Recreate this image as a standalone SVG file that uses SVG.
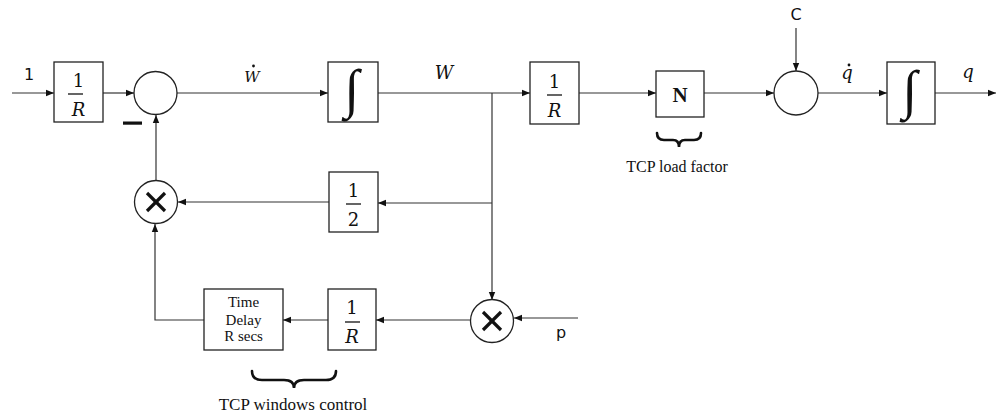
<svg xmlns="http://www.w3.org/2000/svg" width="996" height="419" viewBox="0 0 996 419">
<style>
.blk{fill:#fff;stroke:#222;stroke-width:1.3}
.ln{fill:none;stroke:#333;stroke-width:1.2}
.sans{font-family:"DejaVu Sans","Liberation Sans",sans-serif;fill:#111}
.math{font-family:"DejaVu Serif","Liberation Serif",serif;fill:#111}
.it{font-family:"DejaVu Serif","Liberation Serif",serif;font-style:italic;fill:#111}
.int{font-family:"Liberation Serif","DejaVu Serif",serif;font-style:italic;fill:#111}
.tm{font-family:"Liberation Serif",serif;fill:#111}
.x{stroke:#111;stroke-width:3.2;stroke-linecap:butt}
.br{fill:none;stroke:#111;stroke-width:2.6;stroke-linecap:round}
</style>
<defs>
<marker id="a" viewBox="0 0 8 8" refX="8" refY="4" markerWidth="8" markerHeight="8" markerUnits="userSpaceOnUse" orient="auto">
<path d="M0,0.8 L8,4 L0,7.2 Z" fill="#111"/>
</marker>
</defs>
<rect width="996" height="419" fill="#fff"/>

<g id="connectors">
<path class="ln" d="M12,93 H54" marker-end="url(#a)"/>
<path class="ln" d="M103,93 H134" marker-end="url(#a)"/>
<path class="ln" d="M177,93 H328" marker-end="url(#a)"/>
<path class="ln" d="M378,93 H530" marker-end="url(#a)"/>
<path class="ln" d="M579,93 H656" marker-end="url(#a)"/>
<path class="ln" d="M704,93 H774" marker-end="url(#a)"/>
<path class="ln" d="M796,28 V71" marker-end="url(#a)"/>
<path class="ln" d="M818,93 H887" marker-end="url(#a)"/>
<path class="ln" d="M935,93 H996" marker-end="url(#a)"/>
<path class="ln" d="M492,93 V300" marker-end="url(#a)"/>
<path class="ln" d="M492,203 H378" marker-end="url(#a)"/>
<path class="ln" d="M329,202 H178" marker-end="url(#a)"/>
<path class="ln" d="M156,181 V115" marker-end="url(#a)"/>
<path class="ln" d="M578,318 H514" marker-end="url(#a)"/>
<path class="ln" d="M471,320 H376" marker-end="url(#a)"/>
<path class="ln" d="M328,320 H283" marker-end="url(#a)"/>
<path class="ln" d="M204,320 H155 V224" marker-end="url(#a)"/>
</g>

<g id="labels">
<text class="sans" x="29" y="80" font-size="16" text-anchor="middle">1</text>
<text class="it" x="252" y="82" font-size="15" text-anchor="middle">W</text>
<circle cx="253.5" cy="66" r="1.4" fill="#111"/>
<text class="it" x="444" y="79" font-size="18" text-anchor="middle">W</text>
<text class="sans" x="796" y="20" font-size="16" text-anchor="middle">C</text>
<text class="it" x="847" y="79" font-size="18" text-anchor="middle">q</text>
<circle cx="849" cy="65" r="1.4" fill="#111"/>
<text class="it" x="968" y="78" font-size="18" text-anchor="middle">q</text>
<text class="sans" x="561" y="338" font-size="16" text-anchor="middle">p</text>
<rect x="123" y="121.5" width="19" height="3.2" fill="#111"/>
</g>

<g id="gain1">
<rect class="blk" x="54" y="62" width="49" height="60"/>
<text class="math" x="78.5" y="87" font-size="18" text-anchor="middle">1</text>
<line x1="68" y1="94" x2="83" y2="94" stroke="#111" stroke-width="1.3"/>
<text class="it" x="78.5" y="116" font-size="18" text-anchor="middle">R</text>
</g>

<g id="sum1">
<circle class="blk" cx="155.5" cy="93" r="21.5"/>
</g>

<g id="integrator1">
<rect class="blk" x="328" y="62" width="50" height="60"/>
<text class="int" x="352" y="107" font-size="54" text-anchor="middle">∫</text>
</g>

<g id="gain2">
<rect class="blk" x="530" y="62" width="49" height="62"/>
<text class="math" x="554.5" y="88" font-size="18" text-anchor="middle">1</text>
<line x1="547" y1="95" x2="562" y2="95" stroke="#111" stroke-width="1.3"/>
<text class="it" x="554.5" y="117" font-size="18" text-anchor="middle">R</text>
</g>

<g id="loadN">
<rect class="blk" x="656" y="71" width="48" height="46"/>
<text class="tm" x="680" y="102" font-size="21" font-weight="bold" text-anchor="middle">N</text>
<path class="br" d="M657,133 Q657,140 664,140 L673,140 Q679,140 679,147 Q679,140 685,140 L694,140 Q701,140 701,133"/>
<text class="tm" x="677" y="172" font-size="16" text-anchor="middle">TCP load factor</text>
</g>

<g id="sum2">
<circle class="blk" cx="796" cy="93" r="22"/>
</g>

<g id="integrator2">
<rect class="blk" x="887" y="62" width="48" height="62"/>
<text class="int" x="910" y="108" font-size="54" text-anchor="middle">∫</text>
</g>

<g id="half">
<rect class="blk" x="329" y="172" width="49" height="60"/>
<text class="math" x="353.5" y="197" font-size="18" text-anchor="middle">1</text>
<line x1="346" y1="204" x2="361" y2="204" stroke="#111" stroke-width="1.3"/>
<text class="math" x="353.5" y="226" font-size="18" text-anchor="middle">2</text>
</g>

<g id="mult1">
<circle class="blk" cx="156" cy="202" r="21.5"/>
<line class="x" x1="147" y1="193" x2="165" y2="211"/>
<line class="x" x1="165" y1="193" x2="147" y2="211"/>
</g>

<g id="mult2">
<circle class="blk" cx="492" cy="321" r="21.5"/>
<line class="x" x1="483" y1="312" x2="501" y2="330"/>
<line class="x" x1="501" y1="312" x2="483" y2="330"/>
</g>

<g id="gain3">
<rect class="blk" x="328" y="289" width="48" height="61"/>
<text class="math" x="352" y="314" font-size="18" text-anchor="middle">1</text>
<line x1="345" y1="322" x2="360" y2="322" stroke="#111" stroke-width="1.3"/>
<text class="it" x="352" y="343" font-size="18" text-anchor="middle">R</text>
</g>

<g id="delay">
<rect class="blk" x="204" y="289" width="79" height="61"/>
<text class="tm" x="243.5" y="307" font-size="15" text-anchor="middle">Time</text>
<text class="tm" x="243.5" y="325" font-size="15" text-anchor="middle">Delay</text>
<text class="tm" x="243.5" y="341" font-size="15" text-anchor="middle">R secs</text>
<path class="br" d="M252,371 Q252,380 262,380 L284,380 Q294,380 294,388 Q294,380 304,380 L326,380 Q336,380 336,371"/>
<text class="tm" x="293" y="410" font-size="17" text-anchor="middle">TCP windows control</text>
</g>
</svg>
